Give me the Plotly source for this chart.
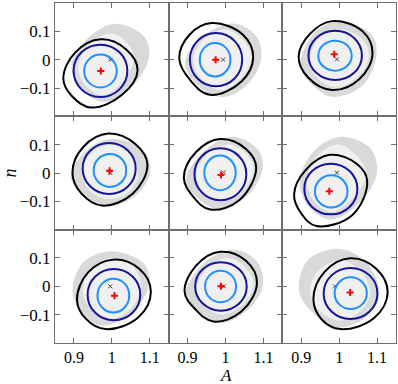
import plotly.graph_objects as go
from plotly.subplots import make_subplots

# ---- tick labels ----
A_TICKS = [0.9, 1.0, 1.1]
A_TICKTEXT = ["0.9", "1", "1.1"]
N_TICKS = [-0.1, 0.0, 0.1]
N_TICKTEXT = ["\u22120.1", "0", "0.1"]

# ---- panels, row by row (r1c1 ... r3c3) ----
# red "+" estimate
PLUS_A = [0.971, 0.974, 0.987, 0.994, 0.988, 0.974, 1.007, 0.988, 1.029]
PLUS_N = [-0.040, 0.000, 0.019, 0.008, -0.007, -0.064, -0.033, 0.000, -0.022]
# small "x" true value
CROSS_A = [0.996, 0.994, 0.994, 0.996, 0.995, 0.994, 0.996, 0.996, 0.989]
CROSS_N = [0.000, 0.000, 0.001, 0.000, 0.002, 0.001, 0.000, 0.000, 0.000]

# inner (light blue) contour extents
LB_A_LO = [0.927, 0.932, 0.945, 0.952, 0.944, 0.936, 0.962, 0.946, 0.988]
LB_A_HI = [1.013, 1.013, 1.033, 1.038, 1.027, 1.022, 1.046, 1.028, 1.073]
LB_N_LO = [-0.098, -0.059, -0.039, -0.049, -0.061, -0.122, -0.092, -0.056, -0.080]
LB_N_HI = [0.018, 0.059, 0.067, 0.067, 0.062, -0.008, 0.027, 0.055, 0.032]

# middle (dark blue) contour extents
DB_A_LO = [0.899, 0.906, 0.919, 0.923, 0.918, 0.908, 0.936, 0.920, 0.959]
DB_A_HI = [1.041, 1.044, 1.060, 1.063, 1.055, 1.048, 1.075, 1.056, 1.101]
DB_N_LO = [-0.132, -0.094, -0.072, -0.074, -0.096, -0.146, -0.120, -0.086, -0.115]
DB_N_HI = [0.053, 0.094, 0.102, 0.106, 0.087, 0.033, 0.061, 0.085, 0.065]

# outer (black) contour, points E, NE, N, NW, W, SW, S, SE
BLACK_A = [
    [1.068, 1.038, 0.971, 0.903, 0.872, 0.895, 0.945, 1.027],
    [1.073, 1.046, 0.963, 0.905, 0.878, 0.909, 0.959, 1.043],
    [1.088, 1.061, 0.981, 0.923, 0.893, 0.918, 0.981, 1.053],
    [1.094, 1.062, 0.991, 0.924, 0.896, 0.920, 0.974, 1.055],
    [1.081, 1.054, 0.986, 0.923, 0.890, 0.915, 0.960, 1.037],
    [1.074, 1.047, 0.975, 0.912, 0.881, 0.900, 0.940, 1.035],
    [1.103, 1.073, 1.002, 0.938, 0.908, 0.931, 0.984, 1.070],
    [1.083, 1.054, 0.986, 0.923, 0.892, 0.919, 0.968, 1.041],
    [1.128, 1.097, 1.029, 0.962, 0.932, 0.954, 1.003, 1.092],
]
BLACK_N = [
    [-0.038, 0.036, 0.072, 0.025, -0.067, -0.129, -0.169, -0.124],
    [0.009, 0.088, 0.129, 0.088, 0.004, -0.076, -0.124, -0.076],
    [0.022, 0.101, 0.136, 0.091, 0.011, -0.063, -0.107, -0.069],
    [0.029, 0.102, 0.139, 0.091, 0.000, -0.073, -0.115, -0.073],
    [0.019, 0.085, 0.120, 0.075, -0.016, -0.084, -0.129, -0.095],
    [-0.028, 0.032, 0.064, 0.011, -0.075, -0.143, -0.187, -0.148],
    [-0.018, 0.061, 0.094, 0.050, -0.047, -0.114, -0.151, -0.109],
    [0.012, 0.090, 0.122, 0.074, -0.018, -0.079, -0.124, -0.090],
    [-0.021, 0.063, 0.099, 0.052, -0.045, -0.117, -0.151, -0.112],
]

# grey sample cloud, outer boundary
GRAY_A = [
    [1.099, 1.085, 1.011, 0.946, 0.894, 0.914, 0.980, 1.061],
    [1.095, 1.080, 1.025, 0.946, 0.893, 0.923, 0.994, 1.062],
    [1.099, 1.083, 0.989, 0.931, 0.897, 0.927, 0.981, 1.062],
    [1.101, 1.085, 1.004, 0.937, 0.892, 0.924, 0.987, 1.063],
    [1.099, 1.084, 1.021, 0.951, 0.895, 0.924, 0.982, 1.066],
    [1.099, 1.084, 1.006, 0.938, 0.896, 0.918, 0.980, 1.053],
    [1.099, 1.083, 0.997, 0.925, 0.896, 0.922, 0.971, 1.053],
    [1.099, 1.084, 1.026, 0.951, 0.895, 0.924, 0.990, 1.066],
    [1.106, 1.074, 1.003, 0.917, 0.894, 0.927, 0.998, 1.069],
]
GRAY_N = [
    [0.015, 0.082, 0.127, 0.087, -0.014, -0.098, -0.149, -0.083],
    [0.009, 0.085, 0.127, 0.088, -0.008, -0.087, -0.132, -0.082],
    [0.022, 0.092, 0.134, 0.089, -0.025, -0.085, -0.131, -0.091],
    [0.000, 0.078, 0.120, 0.085, -0.012, -0.079, -0.118, -0.079],
    [0.025, 0.085, 0.128, 0.086, -0.022, -0.086, -0.128, -0.068],
    [-0.005, 0.085, 0.128, 0.084, -0.022, -0.117, -0.164, -0.106],
    [0.012, 0.082, 0.124, 0.085, -0.018, -0.096, -0.139, -0.096],
    [0.006, 0.086, 0.129, 0.090, -0.024, -0.086, -0.129, -0.074],
    [-0.027, 0.081, 0.132, 0.092, -0.015, -0.089, -0.145, -0.110],
]

# grey sample cloud, lighter core
CORE_A = [
    [1.059, 1.035, 0.997, 0.941, 0.911, 0.932, 0.980, 1.036],
    [1.069, 1.045, 1.003, 0.942, 0.915, 0.937, 0.989, 1.041],
    [1.079, 1.054, 0.998, 0.946, 0.923, 0.942, 0.989, 1.050],
    [1.070, 1.047, 0.996, 0.943, 0.921, 0.943, 0.996, 1.047],
    [1.074, 1.050, 1.008, 0.951, 0.924, 0.943, 0.990, 1.047],
    [1.072, 1.044, 0.997, 0.945, 0.914, 0.932, 0.980, 1.036],
    [1.077, 1.053, 0.997, 0.945, 0.923, 0.945, 0.997, 1.053],
    [1.074, 1.050, 1.008, 0.955, 0.924, 0.943, 0.990, 1.047],
    [1.082, 1.058, 1.007, 0.946, 0.923, 0.946, 1.003, 1.054],
]
CORE_N = [
    [0.009, 0.066, 0.092, 0.055, -0.026, -0.094, -0.126, -0.066],
    [0.009, 0.072, 0.106, 0.072, -0.002, -0.071, -0.108, -0.066],
    [0.022, 0.080, 0.107, 0.074, -0.001, -0.064, -0.098, -0.059],
    [0.000, 0.068, 0.100, 0.068, 0.000, -0.064, -0.092, -0.064],
    [0.019, 0.076, 0.101, 0.070, -0.005, -0.067, -0.095, -0.062],
    [-0.005, 0.064, 0.101, 0.064, -0.022, -0.096, -0.138, -0.090],
    [0.006, 0.074, 0.100, 0.063, -0.012, -0.080, -0.115, -0.074],
    [0.012, 0.069, 0.100, 0.069, -0.006, -0.068, -0.100, -0.063],
    [-0.027, 0.052, 0.091, 0.058, -0.021, -0.084, -0.121, -0.090],
]

GRAY = "#d9d9d9"
CORE = "#f0f0f0"
LIGHT_BLUE = "#1e90ff"
DARK_BLUE = "#14149a"
FRAME = "#6e6e6e"
SMOOTH = 1.0
SERIF = "Liberation Serif, Times New Roman, serif"


def closed(v):
    return list(v) + [v[0]]


fig = make_subplots(rows=3, cols=3, shared_xaxes=True, shared_yaxes=True,
                    horizontal_spacing=0, vertical_spacing=0)

for i in range(9):
    r, c = i // 3 + 1, i % 3 + 1
    fig.add_trace(go.Scatter(x=closed(GRAY_A[i]), y=closed(GRAY_N[i]), mode="lines",
                             fill="toself", fillcolor=GRAY,
                             line=dict(width=0, color=GRAY, shape="spline", smoothing=SMOOTH),
                             hoverinfo="skip", showlegend=False), row=r, col=c)
    fig.add_trace(go.Scatter(x=closed(CORE_A[i]), y=closed(CORE_N[i]), mode="lines",
                             fill="toself", fillcolor=CORE,
                             line=dict(width=0, color=CORE, shape="spline", smoothing=SMOOTH),
                             hoverinfo="skip", showlegend=False), row=r, col=c)
    fig.add_trace(go.Scatter(x=closed(BLACK_A[i]), y=closed(BLACK_N[i]), mode="lines",
                             line=dict(width=2, color="black", shape="spline", smoothing=1.1),
                             hoverinfo="skip", showlegend=False), row=r, col=c)
    fig.add_shape(type="circle", x0=DB_A_LO[i], x1=DB_A_HI[i], y0=DB_N_LO[i], y1=DB_N_HI[i],
                  line=dict(color=DARK_BLUE, width=2), layer="above", row=r, col=c)
    fig.add_shape(type="circle", x0=LB_A_LO[i], x1=LB_A_HI[i], y0=LB_N_LO[i], y1=LB_N_HI[i],
                  line=dict(color=LIGHT_BLUE, width=2), layer="above", row=r, col=c)
    fig.add_trace(go.Scatter(x=[CROSS_A[i]], y=[CROSS_N[i]], mode="markers",
                             marker=dict(symbol="x-thin", size=4, line=dict(width=1, color="#444")),
                             hoverinfo="skip", showlegend=False), row=r, col=c)
    fig.add_trace(go.Scatter(x=[PLUS_A[i]], y=[PLUS_N[i]], mode="markers",
                             marker=dict(symbol="cross-thin", size=5, line=dict(width=2, color="#ff0000")),
                             hoverinfo="skip", showlegend=False), row=r, col=c)

fig.update_xaxes(range=[0.85, 1.15], tickvals=A_TICKS, ticktext=A_TICKTEXT,
                 ticks="inside", ticklen=5, tickcolor=FRAME, showline=True, linecolor=FRAME,
                 linewidth=1, mirror="allticks", showgrid=False, zeroline=False,
                 automargin=False, tickfont=dict(size=16))
fig.update_yaxes(range=[-0.2, 0.2], tickvals=N_TICKS, ticktext=N_TICKTEXT,
                 ticks="inside", ticklen=5, tickcolor=FRAME, showline=True, linecolor=FRAME,
                 linewidth=1, mirror="allticks", showgrid=False, zeroline=False,
                 automargin=False)

fig.update_yaxes(title_text="<i>n</i>", title_font=dict(size=18, family=SERIF),
                 title_standoff=2, row=2, col=1)

# x-axis label, placed under the middle column
fig.add_annotation(text="<i>A</i>", xref="paper", yref="paper", x=0.5, y=-0.097,
                   xanchor="center", yanchor="middle", showarrow=False,
                   font=dict(size=17, family=SERIF, color="black"))

fig.update_layout(width=398, height=384,
                  margin=dict(l=55, r=2, t=3, b=41),
                  paper_bgcolor="white", plot_bgcolor="white",
                  font=dict(family=SERIF, size=17, color="black"),
                  showlegend=False)

fig.write_html("out.html", config={"displayModeBar": False},
               post_script="document.body.style.margin='0';document.body.style.padding='0';")
